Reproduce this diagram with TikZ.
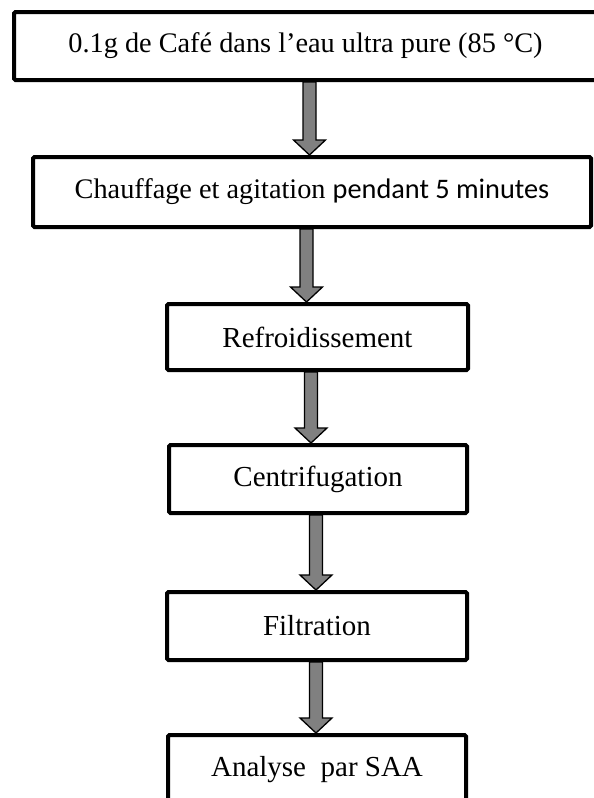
\documentclass[tikz,border=0pt]{standalone}
\usepackage{fontspec}
\setmainfont{Liberation Serif}
\newfontfamily\calib{Carlito}
\usetikzlibrary{calc}
\begin{document}
\begin{tikzpicture}[x=1pt,y=-1pt,
  box/.style={draw=black, line width=4pt, rounded corners=1.5pt, fill=white,
    inner sep=0pt, font=\fontsize{29}{34}\selectfont},
  widebox/.style={box, font=\fontsize{28.3}{34}\selectfont},
  flowarrow/.style={draw=black, line width=1.3pt, fill=gray, line join=miter,
    to path={let \p1=(\tikztostart), \p2=(\tikztotarget) in
      (\x1-6.5pt,\y1) -- (\x1-6.5pt,\y2+15pt) -- (\x1-16pt,\y2+15pt) -- (\x2,\y2)
      -- (\x1+16pt,\y2+15pt) -- (\x1+6.5pt,\y2+15pt) -- (\x1+6.5pt,\y1) -- cycle}}]
\useasboundingbox (0,0) rectangle (594,798);
\clip (0,0) rectangle (594,798);
\fill[white] (0,0) rectangle (594,798);

\node[widebox, minimum width=583pt, minimum height=68pt] (b1) at (305.5,46)
  {0.1g de Café dans l’eau ultra pure (85 °C)};
\node[widebox, minimum width=558pt, minimum height=70pt] (b2) at (312,192)
  {Chauffage et agitation {\calib pendant 5 minutes}};
\node[box, minimum width=301pt, minimum height=66pt] (b3) at (317.5,337)
  {Refroidissement};
\node[box, minimum width=298pt, minimum height=68pt] (b4) at (318,479)
  {Centrifugation};
\node[box, minimum width=300pt, minimum height=68pt] (b5) at (317,626)
  {Filtration};
\node[box, minimum width=298pt, minimum height=70pt] (b6) at (317,770)
  {Analyse~ par SAA};

\draw[flowarrow] (309.5,0 |- b1.south) to (309.5,0 |- b2.north);
\draw[flowarrow] (306.5,0 |- b2.south) to (306.5,0 |- b3.north);
\draw[flowarrow] (311,0 |- b3.south) to (311,0 |- b4.north);
\draw[flowarrow] (316,0 |- b4.south) to (316,0 |- b5.north);
\draw[flowarrow] (316,0 |- b5.south) to (316,0 |- b6.north);
\end{tikzpicture}
\end{document}
